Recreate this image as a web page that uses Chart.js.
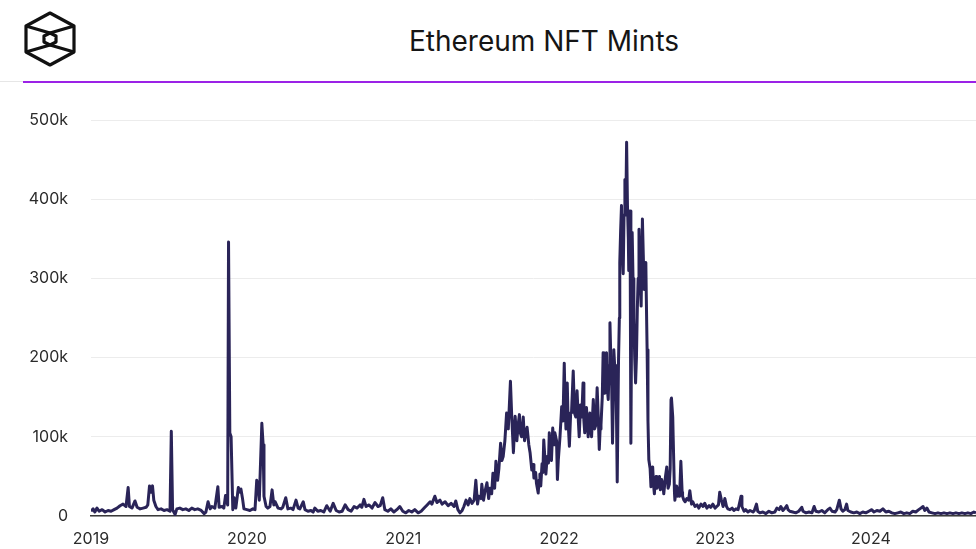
<!DOCTYPE html>
<html>
<head>
<meta charset="utf-8">
<script src="https://cdn.jsdelivr.net/npm/chart.js@4.4.1/dist/chart.umd.min.js"></script>
<style>
  html, body { margin: 0; padding: 0; background: #fff; }
  body { width: 976px; height: 549px; position: relative; overflow: hidden; font-family: Inter, "Noto Sans", sans-serif; }
  .logo { position: absolute; left: 22px; top: 10px; width: 56px; height: 60px; }
  .title { position: absolute; left: 112px; width: 864px; top: 23px; text-align: center; font-size: 28px; color: #151515; line-height: 36px; }
  .rule-grey { position: absolute; left: 0; right: 0; top: 81px; height: 1px; background: #e6e6e6; }
  .rule { position: absolute; left: 23px; right: 0; top: 81px; height: 2px; background: #9b22e6; }
  .chart-box { position: absolute; left: 0; top: 95px; width: 976px; height: 454px; }
</style>
</head>
<body>
<svg class="logo" viewBox="22 10 56 60">
  <g fill="none" stroke="#111" stroke-width="3.2" stroke-linejoin="round">
    <polygon points="50,13 74,26 74,52 50,65 26,52 26,26"/>
    <polygon points="50,33 56,36 56,42 50,45 44,42 44,36"/>
    <polyline points="26,26 50,33 74,26"/>
    <polyline points="26,52 50,45 74,52"/>
  </g>
</svg>
<div class="title">Ethereum NFT Mints</div>
<div class="rule-grey"></div>
<div class="rule"></div>
<div class="chart-box"><canvas id="nftChart"></canvas></div>

<script>
/* global Chart */

// series starts on this day, x values are days after it
var startYear = 2019;
var yearLabels = ['2019', '2020', '2021', '2022', '2023', '2024'];
var lastDay = 2072;

// y axis ticks
var yTicks = [0, 100000, 200000, 300000, 400000, 500000];

// [days since 1 Jan 2019, mints in thousands]
var dailyMints = [
  [0,6],[5,9],[9,5],[14,10],[19,6],[26,8],[33,5],[40,7],[47,6],[54,8],[61,10],[68,13],[75,15],[82,12],[87,36],[90,12],
  [96,10],[103,19],[108,11],[115,9],[122,10],[129,11],[133,14],[137,38],[140,30],[144,38],[147,20],[152,12],[157,8],
  [164,9],[171,7],[178,8],[185,6],[188,107],[191,8],[197,2],[201,9],[208,10],[215,8],[222,9],[229,7],[236,10],[243,8],
  [250,9],[258,7],[265,3],[269,5],[274,18],[279,9],[283,12],[290,10],[297,37],[300,11],[307,12],[311,10],[315,26],
  [320,14],[322,346],[325,105],[328,100],[332,8],[335,23],[339,10],[345,36],[349,30],[351,34],[355,21],[358,9],[365,8],
  [372,7],[379,9],[384,8],[388,45],[391,40],[394,20],[400,117],[403,90],[405,25],[410,12],[414,10],[419,12],[424,33],
  [428,14],[431,18],[438,10],[445,9],[449,11],[456,23],[461,9],[468,10],[473,8],[480,20],[485,10],[489,9],[497,18],
  [501,8],[508,6],[515,7],[520,5],[524,10],[531,6],[538,7],[545,5],[552,13],[560,6],[567,16],[574,7],[581,5],[588,6],
  [595,14],[602,8],[609,6],[616,12],[623,10],[630,14],[634,11],[639,21],[644,12],[651,14],[658,10],[665,17],[672,12],
  [677,13],[683,23],[688,8],[695,6],[702,9],[709,5],[716,8],[723,12],[730,6],[737,4],[744,7],[751,5],[758,8],[766,4],
  [773,6],[780,10],[787,14],[794,18],[798,15],[805,25],[810,17],[817,20],[822,15],[829,18],[836,13],[843,16],[850,12],
  [854,19],[859,8],[864,4],[869,7],[873,12],[878,20],[883,14],[887,22],[892,16],[897,20],[901,45],[905,15],[908,25],
  [913,22],[915,40],[919,20],[922,30],[927,42],[931,22],[934,35],[938,28],[941,54],[945,35],[948,69],[952,45],[955,60],
  [959,92],[962,70],[965,75],[969,95],[973,130],[977,110],[982,170],[985,126],[989,80],[993,126],[997,95],[1000,115],
  [1003,128],[1005,105],[1008,100],[1012,125],[1015,95],[1018,105],[1021,112],[1025,90],[1028,80],[1032,58],[1035,65],
  [1037,48],[1041,55],[1043,41],[1047,29],[1049,45],[1051,53],[1053,38],[1056,66],[1058,55],[1060,96],[1063,70],
  [1065,53],[1068,75],[1071,67],[1073,105],[1075,80],[1078,70],[1081,111],[1084,90],[1086,105],[1090,95],[1092,46],
  [1094,70],[1098,100],[1102,138],[1105,120],[1108,193],[1110,140],[1112,110],[1115,168],[1117,120],[1120,88],
  [1123,130],[1125,130],[1129,183],[1132,130],[1135,125],[1138,158],[1141,120],[1143,100],[1146,140],[1149,125],
  [1152,168],[1154,120],[1156,105],[1160,137],[1164,100],[1168,130],[1172,100],[1176,147],[1179,110],[1182,115],
  [1185,162],[1188,120],[1190,84],[1192,110],[1194,115],[1197,150],[1199,206],[1201,170],[1203,155],[1207,206],
  [1209,160],[1211,147],[1213,190],[1215,244],[1217,200],[1219,165],[1221,92],[1223,150],[1224,210],[1227,180],
  [1229,190],[1232,43],[1235,195],[1237,250],[1238,320],[1240,360],[1242,392],[1244,330],[1246,306],[1248,380],
  [1250,425],[1252,380],[1254,472],[1256,392],[1258,350],[1259,310],[1262,385],[1264,92],[1267,358],[1269,300],
  [1271,250],[1273,200],[1275,168],[1277,200],[1279,260],[1281,300],[1283,362],[1285,310],[1288,265],[1291,375],
  [1293,330],[1295,286],[1297,300],[1299,320],[1300,280],[1302,210],[1304,120],[1306,71],[1309,60],[1311,37],[1313,55],
  [1315,62],[1317,40],[1319,28],[1321,45],[1323,50],[1325,35],[1328,38],[1331,50],[1333,33],[1336,46],[1339,40],
  [1341,28],[1345,50],[1348,62],[1351,35],[1354,40],[1356,60],[1358,147],[1359,149],[1362,125],[1363,100],[1366,30],
  [1367,20],[1371,38],[1373,25],[1375,35],[1378,25],[1381,69],[1384,30],[1385,25],[1388,20],[1391,18],[1395,22],
  [1399,20],[1402,32],[1406,15],[1409,18],[1414,12],[1419,14],[1423,10],[1428,15],[1433,12],[1437,16],[1442,10],
  [1447,13],[1451,11],[1456,15],[1461,10],[1465,12],[1469,14],[1472,30],[1476,20],[1480,12],[1484,22],[1488,12],
  [1491,9],[1496,8],[1501,10],[1505,7],[1510,9],[1515,8],[1522,25],[1524,12],[1529,6],[1533,8],[1538,5],[1543,7],
  [1550,5],[1553,7],[1558,15],[1561,6],[1566,4],[1573,5],[1580,3],[1587,6],[1594,4],[1601,5],[1606,10],[1611,8],
  [1615,12],[1620,7],[1625,10],[1629,13],[1632,8],[1636,6],[1643,5],[1650,4],[1657,6],[1664,11],[1667,6],[1674,4],
  [1681,5],[1688,4],[1693,12],[1697,6],[1704,5],[1711,7],[1718,4],[1725,8],[1730,10],[1735,6],[1742,5],[1746,8],
  [1752,20],[1756,9],[1760,6],[1765,8],[1769,15],[1772,7],[1779,5],[1786,4],[1793,5],[1800,3],[1807,5],[1814,4],
  [1821,6],[1828,8],[1833,5],[1840,7],[1847,6],[1854,9],[1861,5],[1868,6],[1875,4],[1882,3],[1889,4],[1896,5],
  [1903,3],[1910,4],[1917,3],[1924,6],[1931,5],[1938,8],[1943,10],[1948,12],[1952,7],[1957,10],[1962,5],[1969,4],
  [1976,3],[1983,4],[1990,3],[1997,4],[2004,3],[2011,4],[2018,3],[2025,4],[2032,3],[2039,4],[2046,3],[2053,4],
  [2060,3],[2067,5],[2072,4]
];

var DAY = 86400000;
var start = Date.UTC(startYear, 0, 1);
var yearStarts = yearLabels.map(function(y) {
  return (Date.UTC(+y, 0, 1) - start) / DAY;
});

var points = dailyMints.map(function(p) {
  return { x: p[0], y: p[1] * 1000 };
});

var tickFont = { family: 'Inter, "Noto Sans", sans-serif', size: 16 };

new Chart(document.getElementById('nftChart').getContext('2d'), {
  type: 'line',
  data: {
    datasets: [{
      label: 'NFT mints',
      data: points,
      borderColor: '#2a2458',
      borderWidth: 3,
      pointRadius: 0,
      tension: 0,
      borderJoinStyle: 'round'
    }]
  },
  options: {
    responsive: true,
    maintainAspectRatio: false,
    animation: false,
    layout: { padding: { top: 25, right: 0, bottom: 0, left: 0 } },
    plugins: {
      legend: { display: false },
      tooltip: { enabled: false }
    },
    scales: {
      x: {
        type: 'linear',
        min: 0,
        max: lastDay,
        afterBuildTicks: function(scale) {
          scale.ticks = yearStarts.map(function(v) { return { value: v }; });
        },
        afterFit: function(scale) { scale.height = 33; },
        ticks: {
          autoSkip: false,
          maxRotation: 0,
          padding: 14,
          color: '#2b2b2b',
          font: tickFont,
          callback: function(v) {
            return yearLabels[yearStarts.indexOf(v)];
          }
        },
        grid: { display: false, drawTicks: false },
        border: { display: true, color: '#3a3a3a', width: 1.5 }
      },
      y: {
        min: 0,
        max: 500000,
        afterBuildTicks: function(scale) {
          scale.ticks = yTicks.map(function(v) { return { value: v }; });
        },
        afterFit: function(scale) {
          // fixed gutter for the labels, and no extra room above the top tick
          scale.width = 91;
          scale.paddingTop = 10;
          scale.paddingBottom = 0;
        },
        ticks: {
          padding: 23,
          color: '#2b2b2b',
          font: tickFont,
          callback: function(v) { return v === 0 ? '0' : (v / 1000) + 'k'; }
        },
        grid: { color: '#ececec', lineWidth: 1, drawTicks: false },
        border: { display: false }
      }
    }
  }
});
</script>
</body>
</html>
